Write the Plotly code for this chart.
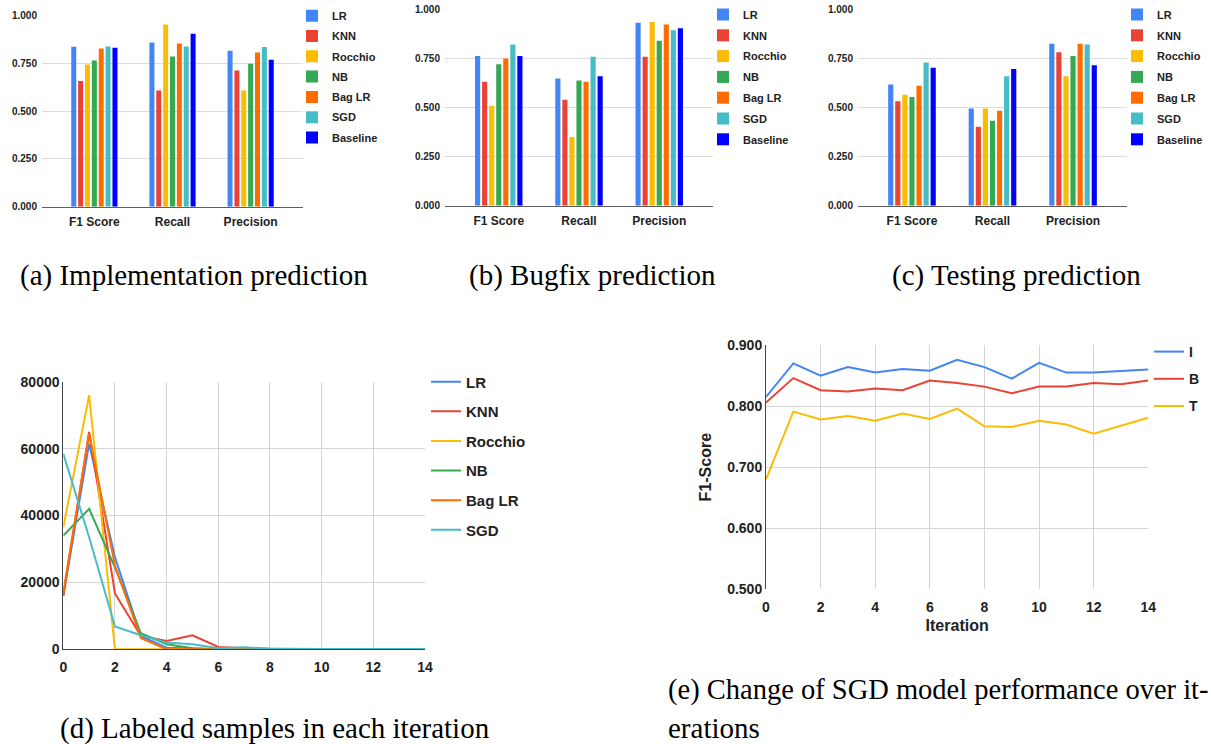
import plotly.graph_objects as go

W, H = 1211, 744
SANS = "Liberation Sans, Arial, sans-serif"
SERIF = "Liberation Serif, Times New Roman, serif"
TXT = "#222222"

# ---------------- data ----------------
models = ["LR", "KNN", "Rocchio", "NB", "Bag LR", "SGD", "Baseline"]
metrics = ["F1 Score", "Recall", "Precision"]
model_colors = ["#4285F4", "#EA4335", "#FBBC04", "#34A853", "#FF6D01", "#46BDC6", "#0000FF"]

impl_f1 = [0.838, 0.658, 0.745, 0.766, 0.829, 0.839, 0.832]
impl_recall = [0.860, 0.609, 0.955, 0.787, 0.855, 0.839, 0.906]
impl_precision = [0.817, 0.714, 0.609, 0.749, 0.808, 0.836, 0.770]

bug_f1 = [0.761, 0.631, 0.508, 0.720, 0.749, 0.820, 0.761]
bug_recall = [0.647, 0.539, 0.349, 0.637, 0.631, 0.758, 0.658]
bug_precision = [0.930, 0.758, 0.934, 0.839, 0.922, 0.893, 0.903]

test_f1 = [0.617, 0.531, 0.564, 0.553, 0.610, 0.729, 0.702]
test_recall = [0.495, 0.402, 0.495, 0.432, 0.483, 0.658, 0.695]
test_precision = [0.824, 0.780, 0.658, 0.761, 0.824, 0.820, 0.714]

iterations = list(range(15))
sample_models = ["LR", "KNN", "Rocchio", "NB", "Bag LR", "SGD"]
sample_colors = ["#4285F4", "#EA4335", "#FBBC04", "#34A853", "#FF6D01", "#46BDC6"]
samples_lr = [16000, 61500, 27500, 4000, 500, 200, 0, 0, 0, 0, 0, 0, 0, 0, 0]
samples_knn = [16000, 65000, 16700, 4000, 2500, 4200, 700, 300, 200, 100, 100, 0, 0, 0, 0]
samples_rocchio = [36500, 76000, 0, 0, 0, 0, 0, 0, 0, 0, 0, 0, 0, 0, 0]
samples_nb = [34000, 42000, 24500, 4800, 1500, 300, 0, 0, 0, 0, 0, 0, 0, 0, 0]
samples_baglr = [17000, 64500, 25000, 3400, 0, 0, 0, 0, 0, 0, 0, 0, 0, 0, 0]
samples_sgd = [58500, 33500, 6800, 4200, 2000, 1500, 300, 600, 200, 100, 100, 100, 100, 100, 100]

sgd_series = ["I", "B", "T"]
sgd_colors = ["#4285F4", "#EA4335", "#FBBC04"]
sgd_i = [0.815, 0.870, 0.850, 0.864, 0.855, 0.861, 0.858, 0.876, 0.864, 0.845, 0.871, 0.855, 0.855, 0.857, 0.860]
sgd_b = [0.806, 0.846, 0.826, 0.824, 0.829, 0.826, 0.842, 0.838, 0.832, 0.821, 0.832, 0.832, 0.838, 0.836, 0.842]
sgd_t = [0.680, 0.791, 0.778, 0.784, 0.776, 0.788, 0.779, 0.796, 0.767, 0.766, 0.776, 0.770, 0.755, 0.768, 0.781]


def fx(px):
    return px / W


def fy(py):
    return 1 - py / H


fig = go.Figure()

bar_panels = [
    ("x", "y", "legend", (impl_f1, impl_recall, impl_precision), "a"),
    ("x2", "y2", "legend2", (bug_f1, bug_recall, bug_precision), "b"),
    ("x3", "y3", "legend3", (test_f1, test_recall, test_precision), "c"),
]
for xa, ya, lg, (f1, rec, prec), tag in bar_panels:
    for i, m in enumerate(models):
        fig.add_trace(go.Bar(
            x=metrics, y=[f1[i], rec[i], prec[i]], name=m,
            marker=dict(color=model_colors[i], line=dict(width=0)),
            xaxis=xa, yaxis=ya, legend=lg, legendgroup=f"{tag}{i}",
        ))

samples = [samples_lr, samples_knn, samples_rocchio, samples_nb, samples_baglr, samples_sgd]
for i, m in enumerate(sample_models):
    fig.add_trace(go.Scatter(
        x=iterations, y=samples[i], name=m, mode="lines",
        line=dict(color=sample_colors[i], width=2),
        xaxis="x4", yaxis="y4", legend="legend4", legendgroup=f"d{i}",
    ))

sgd_vals = [sgd_i, sgd_b, sgd_t]
for i, s in enumerate(sgd_series):
    fig.add_trace(go.Scatter(
        x=iterations, y=sgd_vals[i], name=s, mode="lines",
        line=dict(color=sgd_colors[i], width=2),
        xaxis="x5", yaxis="y5", legend="legend5", legendgroup=f"e{i}",
    ))


def tfont(size):
    return dict(family=SANS, size=size, color=TXT, weight="bold")


def bar_x(anchor, dom):
    return dict(domain=dom, anchor=anchor, type="category", range=[-0.67, 2.67],
                showgrid=False, showline=True, linecolor="#5f5f5f", linewidth=1,
                ticks="", tickfont=tfont(12), zeroline=False, ticklabelstandoff=4)


def bar_y(anchor, dom):
    return dict(domain=dom, anchor=anchor, range=[0, 1.0005],
                tickvals=[0, 0.25, 0.5, 0.75, 1.0], tickformat=".3f",
                showgrid=True, gridcolor="#dddddd", gridwidth=1, zeroline=False,
                showline=False, ticks="", tickfont=tfont(10), ticklabelstandoff=4)


def legend(xpx, ypx, size, gap):
    return dict(x=fx(xpx), y=fy(ypx), xanchor="left", yanchor="top",
                font=dict(family=SANS, size=size, color=TXT, weight="bold"),
                bgcolor="rgba(0,0,0,0)", borderwidth=0, traceorder="grouped",
                tracegroupgap=gap)


layout = dict(
    width=W, height=H, margin=dict(l=0, r=0, t=0, b=0, autoexpand=False),
    paper_bgcolor="white", plot_bgcolor="white",
    barmode="group", bargap=0.385, bargroupgap=0.27,
    showlegend=True,
    xaxis=bar_x("y", [fx(42), fx(303)]),
    yaxis=bar_y("x", [fy(206.7), fy(15.7)]),
    xaxis2=bar_x("y2", [fx(445), fx(713)]),
    yaxis2=bar_y("x2", [fy(205.7), fy(9)]),
    xaxis3=bar_x("y3", [fx(858), fx(1127)]),
    yaxis3=bar_y("x3", [fy(205.7), fy(9)]),
    xaxis4=dict(domain=[fx(63.3), fx(425)], anchor="y4", range=[0, 14.001], dtick=2,
                showgrid=True, gridcolor="#d4d4d4", showline=True, linecolor="#444444",
                linewidth=1, zeroline=False, ticks="", tickfont=tfont(14),
                ticklabelstandoff=5),
    yaxis4=dict(domain=[fy(649.3), fy(381.7)], anchor="x4", range=[0, 80040], dtick=20000,
                tickformat="d", showgrid=True, gridcolor="#d4d4d4", showline=True,
                linecolor="#444444", linewidth=1, zeroline=False, ticks="", tickfont=tfont(14)),
    xaxis5=dict(domain=[fx(766), fx(1148.3)], anchor="y5", range=[0, 14.001], dtick=2,
                showgrid=True, gridcolor="#d4d4d4", showline=False, zeroline=False,
                ticks="", tickfont=tfont(14), ticklabelstandoff=8,
                title=dict(text="Iteration", font=tfont(16), standoff=5)),
    yaxis5=dict(domain=[fy(589.3), fy(345)], anchor="x5", range=[0.4998, 0.9002], dtick=0.1,
                tickformat=".3f", showgrid=True, gridcolor="#d4d4d4", showline=True,
                linecolor="#444444", linewidth=1, zeroline=False, ticks="", tickfont=tfont(14),
                title=dict(text="F1-Score", font=tfont(16), standoff=11)),
    legend=legend(292, 1.2, 11, 1.3),
    legend2=legend(703, 0, 11, 1.8),
    legend3=legend(1117, 0, 11, 1.8),
    legend4=legend(426, 365.5, 15, 7.1),
    legend5=legend(1149, 336, 14, 6.0),
)
fig.update_layout(**layout)

captions = [
    ("(a) Implementation prediction", 18, 275, 29),
    ("(b) Bugfix prediction", 467, 275, 29),
    ("(c) Testing prediction", 890, 275, 29),
    ("(d) Labeled samples in each iteration", 58, 728, 29),
    ("(e) Change of SGD model performance over it-", 666, 690, 28.5),
    ("erations", 666, 728, 29),
]
for text, xl, yc, fs in captions:
    fig.add_annotation(text=text, xref="paper", yref="paper", x=fx(xl), y=fy(yc),
                       xanchor="left", yanchor="middle", showarrow=False,
                       font=dict(family=SERIF, size=fs, color="black"))

fig.write_html(
    "out.html",
    config={"displayModeBar": False},
    post_script="document.body.style.margin='0px';document.body.style.padding='0px';"
                "document.body.style.overflow='hidden';",
)
